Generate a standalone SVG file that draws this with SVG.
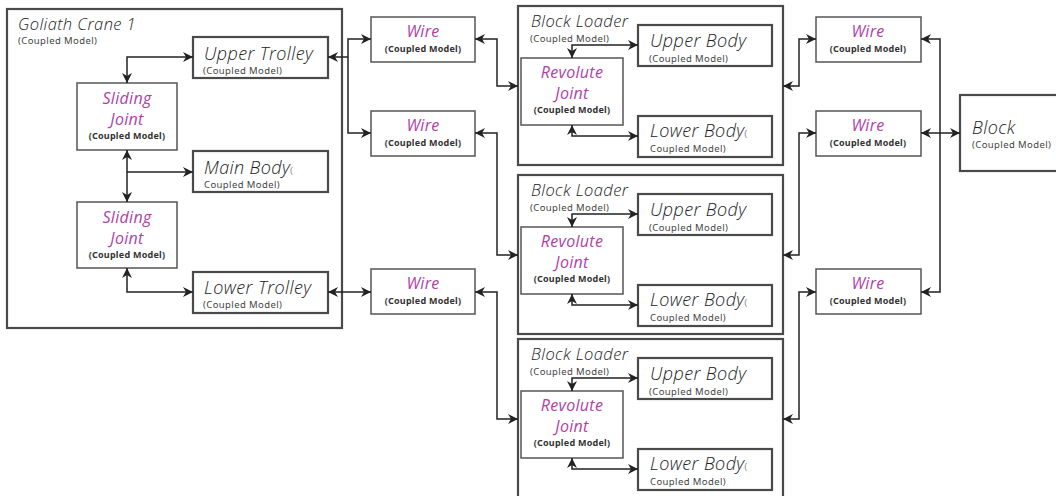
<svg xmlns="http://www.w3.org/2000/svg" width="1056" height="496" viewBox="0 0 1056 496">
<defs>
<marker id="ah" viewBox="0 0 10 10" refX="10" refY="5" markerWidth="10" markerHeight="10" markerUnits="userSpaceOnUse" orient="auto-start-reverse">
<path d="M0,0 L10,5 L0,10 L3,5 z" fill="#222"/>
</marker>
<style>
.outer{fill:none;stroke:#4a4a4a;stroke-width:2.2}
.box{fill:#fff;stroke:#4a4a4a;stroke-width:2.2}
.thin{fill:#fff;stroke:#555;stroke-width:1.5}
.title{font-family:"Open Sans","Noto Sans",sans-serif;font-weight:300;font-style:italic;fill:#222;letter-spacing:0.4px}
.sub{font-family:"Noto Sans","Open Sans",sans-serif;font-size:9.5px;fill:#444;letter-spacing:0.4px}
.subb{font-family:"Noto Sans","Open Sans",sans-serif;font-size:9px;font-weight:bold;fill:#333;text-anchor:middle;letter-spacing:0.25px}
.mag{font-family:"Open Sans","Noto Sans",sans-serif;font-style:italic;font-size:16px;fill:#B040A8;text-anchor:middle;letter-spacing:0.3px}
.c{fill:none;stroke:#222;stroke-width:1.5}
.bb{marker-start:url(#ah);marker-end:url(#ah)}
.e{marker-end:url(#ah)}
</style>
</defs>
<g id="goliath">
<rect class="outer" x="7" y="9" width="335" height="319"/>
<text class="title" x="18" y="30" font-size="16.5">Goliath Crane 1</text>
<text class="sub" x="18" y="44" font-size="9">(Coupled Model)</text>
</g>
<g id="upper-trolley">
<rect class="box" x="193" y="37" width="135" height="41"/>
<text class="title" x="204" y="60" font-size="18">Upper Trolley</text>
<text class="sub" x="203" y="74">(Coupled Model)</text>
</g>
<g id="sliding-joint-1">
<rect class="thin" x="77" y="83" width="100" height="67"/>
<text class="mag" x="127" y="104">Sliding</text>
<text class="mag" x="127" y="125">Joint</text>
<text class="subb" x="127" y="139">(Coupled Model)</text>
</g>
<g id="main-body">
<rect class="box" x="193" y="151" width="135" height="41"/>
<text class="title" x="204" y="174" font-size="18">Main Body<tspan font-size="9.5" font-style="normal">(</tspan></text>
<text class="sub" x="204" y="188">Coupled Model)</text>
</g>
<g id="sliding-joint-2">
<rect class="thin" x="77" y="202" width="100" height="66"/>
<text class="mag" x="127" y="223">Sliding</text>
<text class="mag" x="127" y="244">Joint</text>
<text class="subb" x="127" y="258">(Coupled Model)</text>
</g>
<g id="lower-trolley">
<rect class="box" x="193" y="272" width="135" height="41"/>
<text class="title" x="204" y="294" font-size="18">Lower Trolley</text>
<text class="sub" x="203" y="308">(Coupled Model)</text>
</g>
<g id="wire-1">
<rect class="thin" x="371" y="17" width="104" height="45"/>
<text class="mag" x="423" y="37">Wire</text>
<text class="subb" x="423" y="52">(Coupled Model)</text>
</g>
<g id="wire-2">
<rect class="thin" x="371" y="111" width="104" height="45"/>
<text class="mag" x="423" y="131">Wire</text>
<text class="subb" x="423" y="146">(Coupled Model)</text>
</g>
<g id="wire-3">
<rect class="thin" x="371" y="269" width="104" height="45"/>
<text class="mag" x="423" y="289">Wire</text>
<text class="subb" x="423" y="304">(Coupled Model)</text>
</g>
<g id="block-loader-1">
<rect class="outer" x="518" y="6" width="265" height="159"/>
<text class="title" x="531" y="27" font-size="16.5">Block Loader</text>
<text class="sub" x="530" y="42" font-size="9">(Coupled Model)</text>
<rect class="box" x="638" y="25" width="134" height="41"/>
<text class="title" x="650" y="47" font-size="18">Upper Body</text>
<text class="sub" x="649" y="62">(Coupled Model)</text>
<rect class="thin" x="521" y="58" width="102" height="67"/>
<text class="mag" x="572" y="78">Revolute</text>
<text class="mag" x="572" y="99">Joint</text>
<text class="subb" x="572" y="113">(Coupled Model)</text>
<rect class="box" x="638" y="116" width="134" height="41"/>
<text class="title" x="650" y="137" font-size="18">Lower Body<tspan font-size="9.5" font-style="normal">(</tspan></text>
<text class="sub" x="650" y="152">Coupled Model)</text>
</g>
<g id="block-loader-2" transform="translate(0,169)">
<rect class="outer" x="518" y="6" width="265" height="159"/>
<text class="title" x="531" y="27" font-size="16.5">Block Loader</text>
<text class="sub" x="530" y="42" font-size="9">(Coupled Model)</text>
<rect class="box" x="638" y="25" width="134" height="41"/>
<text class="title" x="650" y="47" font-size="18">Upper Body</text>
<text class="sub" x="649" y="62">(Coupled Model)</text>
<rect class="thin" x="521" y="58" width="102" height="67"/>
<text class="mag" x="572" y="78">Revolute</text>
<text class="mag" x="572" y="99">Joint</text>
<text class="subb" x="572" y="113">(Coupled Model)</text>
<rect class="box" x="638" y="116" width="134" height="41"/>
<text class="title" x="650" y="137" font-size="18">Lower Body<tspan font-size="9.5" font-style="normal">(</tspan></text>
<text class="sub" x="650" y="152">Coupled Model)</text>
</g>
<g id="block-loader-3" transform="translate(0,333)">
<rect class="outer" x="518" y="6" width="265" height="159"/>
<text class="title" x="531" y="27" font-size="16.5">Block Loader</text>
<text class="sub" x="530" y="42" font-size="9">(Coupled Model)</text>
<rect class="box" x="638" y="25" width="134" height="41"/>
<text class="title" x="650" y="47" font-size="18">Upper Body</text>
<text class="sub" x="649" y="62">(Coupled Model)</text>
<rect class="thin" x="521" y="58" width="102" height="67"/>
<text class="mag" x="572" y="78">Revolute</text>
<text class="mag" x="572" y="99">Joint</text>
<text class="subb" x="572" y="113">(Coupled Model)</text>
<rect class="box" x="638" y="116" width="134" height="41"/>
<text class="title" x="650" y="137" font-size="18">Lower Body<tspan font-size="9.5" font-style="normal">(</tspan></text>
<text class="sub" x="650" y="152">Coupled Model)</text>
</g>
<g id="wire-4">
<rect class="thin" x="816" y="17" width="105" height="45"/>
<text class="mag" x="868" y="37">Wire</text>
<text class="subb" x="868" y="52">(Coupled Model)</text>
</g>
<g id="wire-5">
<rect class="thin" x="816" y="111" width="105" height="45"/>
<text class="mag" x="868" y="131">Wire</text>
<text class="subb" x="868" y="146">(Coupled Model)</text>
</g>
<g id="wire-6">
<rect class="thin" x="816" y="269" width="105" height="45"/>
<text class="mag" x="868" y="289">Wire</text>
<text class="subb" x="868" y="304">(Coupled Model)</text>
</g>
<g id="block">
<rect class="box" x="960" y="95" width="100" height="76"/>
<text class="title" x="972" y="134" font-size="18">Block</text>
<text class="sub" x="972" y="148">(Coupled Model)</text>
</g>
<g id="connectors">
<path class="c bb" d="M127,83 V57 H193"/>
<path class="c bb" d="M127,150 V202"/>
<path class="c e" d="M127,172 H193"/>
<path class="c bb" d="M127,268 V292 H193"/>
<path class="c bb" d="M371,39 H348 V133 H371"/>
<path class="c e" d="M348,57 H328"/>
<path class="c bb" d="M328,292 H371"/>
<path class="c bb" d="M475,39 H497 V86 H518"/>
<path class="c bb" d="M475,133 H497 V255 H518"/>
<path class="c bb" d="M475,292 H497 V419 H518"/>
<path class="c bb" d="M572,58 V45 H638"/>
<path class="c bb" d="M572,125 V136 H638"/>
<path class="c bb" d="M572,227 V214 H638"/>
<path class="c bb" d="M572,294 V305 H638"/>
<path class="c bb" d="M572,391 V378 H638"/>
<path class="c bb" d="M572,458 V469 H638"/>
<path class="c bb" d="M783,86 H799 V39 H816"/>
<path class="c bb" d="M783,255 H799 V133 H816"/>
<path class="c bb" d="M783,419 H799 V292 H816"/>
<path class="c bb" d="M921,39 H940 V292 H921"/>
<path class="c bb" d="M921,133 H960"/>
</g>
</svg>
